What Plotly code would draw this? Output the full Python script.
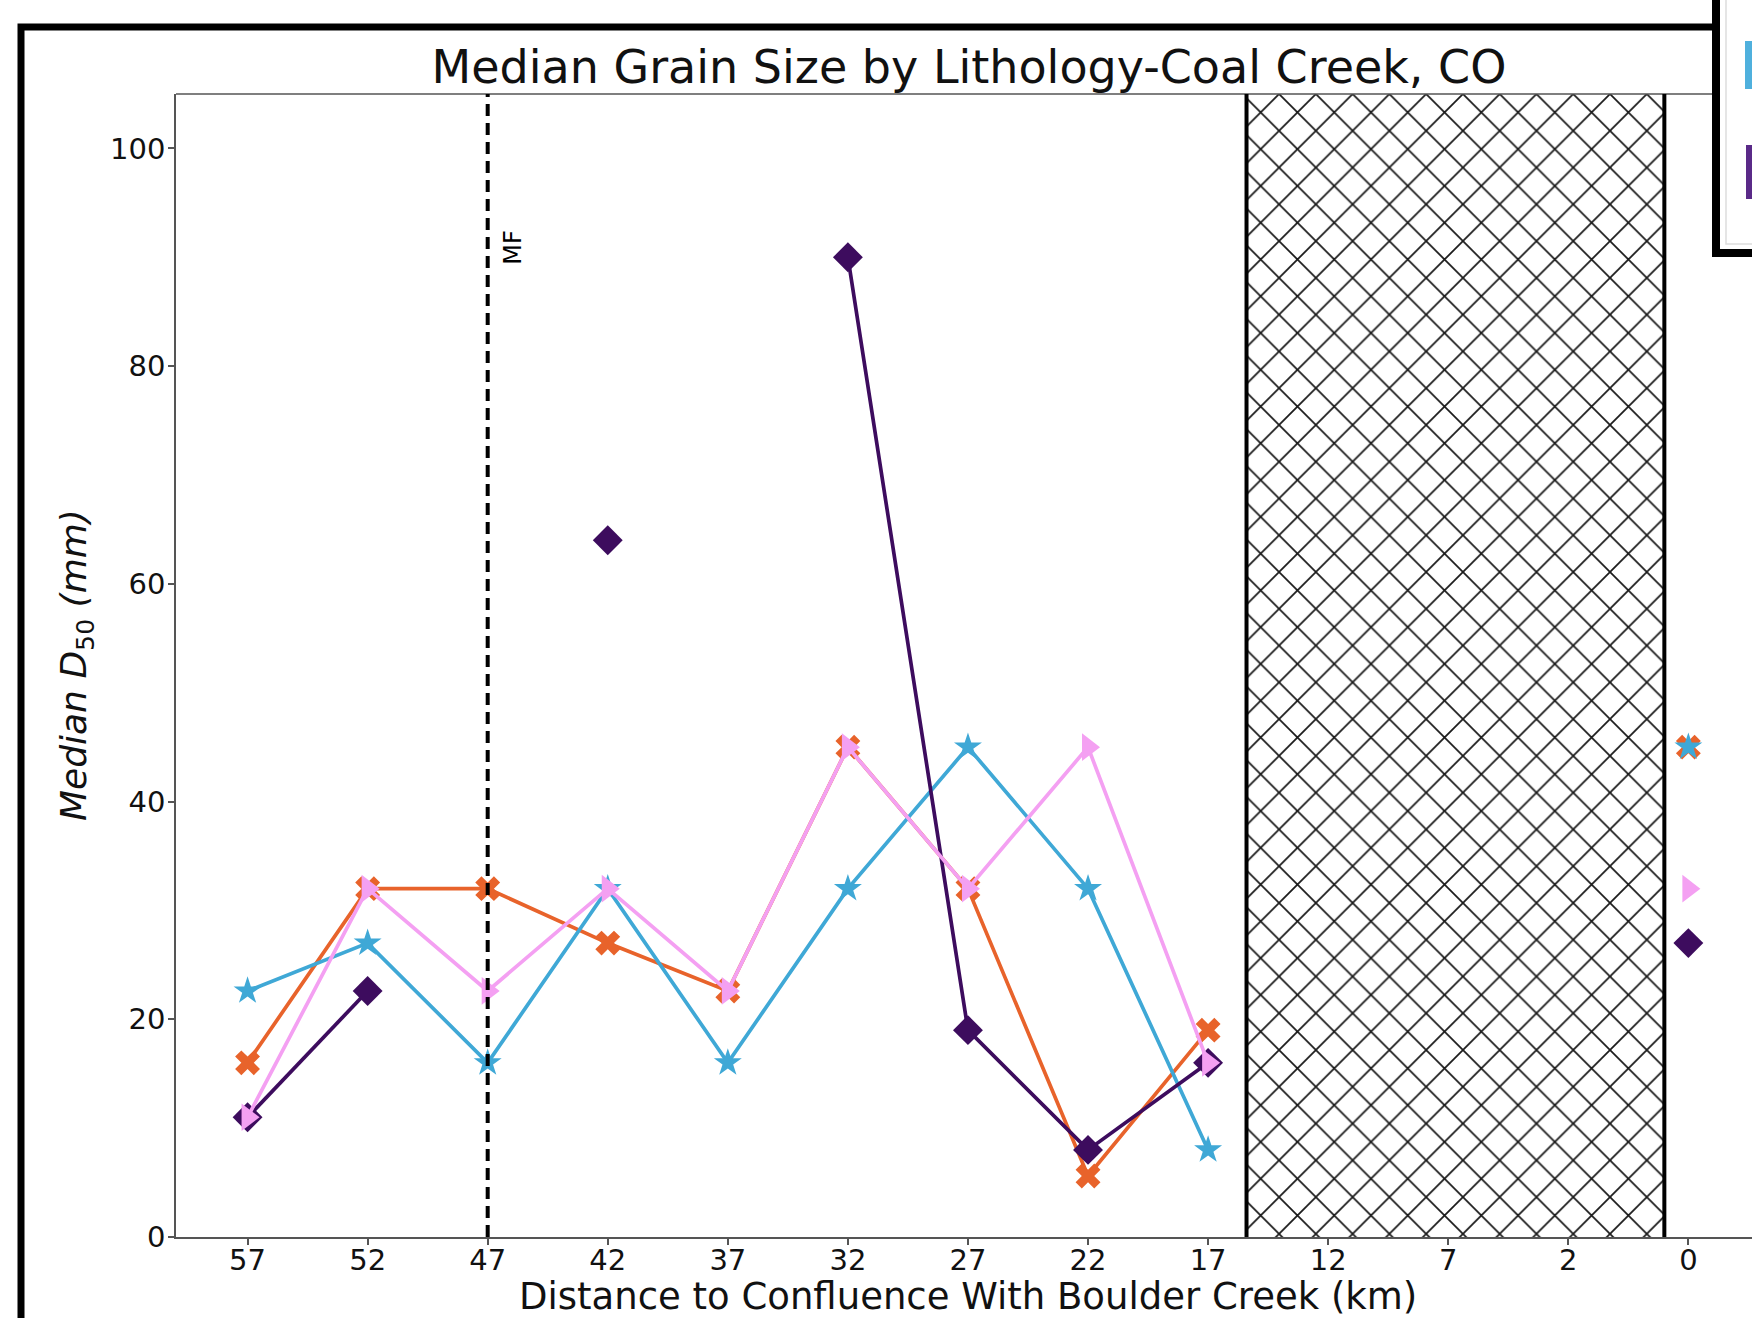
import plotly.graph_objects as go

# ---------------- data ----------------
distance_labels = ["57", "52", "47", "42", "37", "32", "27", "22", "17", "12", "7", "2", "0"]
positions = list(range(len(distance_labels)))

orange_d50 = [16, 32, 32, 27, 22.6, 45, 32, 5.6, 19, None, None, None, 45]
cyan_d50 = [22.6, 27, 16, 32, 16, 32, 45, 32, 8, None, None, None, 45]
purple_d50 = [11, 22.6, None, 64, None, 90, 19, 8, 16, None, None, None, 27]
pink_d50 = [11, 32, 22.6, 32, 22.6, 45, 32, 45, 16, None, None, None, 32]

y_ticks = [0, 20, 40, 60, 80, 100]
mf_position = 2          # index of "47" (MF marker line)
gap_start = 8.32         # hatched (no data) reach, in axis units
gap_end = 11.8

# ---------------- geometry ----------------
W, H = 1752, 1318
ML, MR, MT, MB = 176, 0, 94, 81
PW, PH = W - ML - MR, H - MT - MB
X_RANGE = [-0.596, 12.53]
Y_RANGE = [0, 105]


def px(x):
    """page x pixel -> paper coordinate"""
    return (x - ML) / PW


def py(y):
    """page y pixel -> paper coordinate"""
    return (H - MB - y) / PH


FONT = "DejaVu Sans"

fig = go.Figure()

# hatched region
fig.add_trace(go.Scatter(
    x=[gap_start, gap_end, gap_end, gap_start, gap_start],
    y=[Y_RANGE[0], Y_RANGE[0], Y_RANGE[1], Y_RANGE[1], Y_RANGE[0]],
    mode="lines", fill="toself", line=dict(width=0),
    fillcolor="white",
    fillpattern=dict(shape="x", size=26, solidity=0.13, fgcolor="#1a1a1a",
                     bgcolor="white", fgopacity=1),
    hoverinfo="skip", showlegend=False,
))

series = [
    ("Orange", orange_d50, "#E8632B", "x", 22),
    ("Cyan", cyan_d50, "#3FA8D6", "star", 21),
    ("Purple", purple_d50, "#3D0C5E", "diamond", 23),
    ("Pink", pink_d50, "#F4A0F2", "triangle-right", 24),
]
for name, vals, col, sym, size in series:
    fig.add_trace(go.Scatter(
        x=positions, y=vals, name=name, mode="lines+markers",
        line=dict(color=col, width=3.7),
        marker=dict(symbol=sym, size=size, color=col, line=dict(width=0)),
        connectgaps=False, showlegend=False,
    ))

shapes = []
# top spine (ends at the legend box)
shapes.append(dict(type="line", xref="paper", yref="paper",
                   x0=0, x1=px(1716), y0=1, y1=1,
                   line=dict(color="#555555", width=1.5)))
# MF dashed line
shapes.append(dict(type="line", xref="x", yref="y", x0=mf_position, x1=mf_position,
                   y0=Y_RANGE[0], y1=Y_RANGE[1],
                   line=dict(color="black", width=4, dash="12px,7px")))
# borders of hatched region
for xv in (gap_start, gap_end):
    shapes.append(dict(type="line", xref="x", yref="y", x0=xv, x1=xv,
                       y0=Y_RANGE[0], y1=Y_RANGE[1],
                       line=dict(color="black", width=4)))
# outer frame (screenshot border)
shapes.append(dict(type="path", xref="paper", yref="paper",
                   path=f"M {px(21)},{py(1360)} L {px(21)},{py(27)} L {px(1716)},{py(27)}",
                   line=dict(color="black", width=7)))
# cut-off legend box
shapes.append(dict(type="rect", xref="paper", yref="paper",
                   x0=px(1716), x1=px(1800), y0=py(253), y1=py(-30),
                   fillcolor="white", line=dict(color="black", width=8), layer="above"))
shapes.append(dict(type="rect", xref="paper", yref="paper",
                   x0=px(1726), x1=px(1800), y0=py(244), y1=py(-30),
                   fillcolor="white", line=dict(color="#dddddd", width=1.5), layer="above"))
shapes.append(dict(type="rect", xref="paper", yref="paper",
                   x0=px(1745), x1=px(1790), y0=py(89), y1=py(41),
                   fillcolor="#4FB0DD", line=dict(width=0), layer="above"))
shapes.append(dict(type="rect", xref="paper", yref="paper",
                   x0=px(1746), x1=px(1790), y0=py(199), y1=py(145),
                   fillcolor="#5A2A88", line=dict(width=0), layer="above"))

annotations = [
    dict(text="MF", x=mf_position, y=py(247), xref="x", yref="paper",
         xshift=25, textangle=-90, showarrow=False,
         font=dict(family=FONT, size=24, color="black"),
         xanchor="center", yanchor="middle"),
    dict(text="Distance to Confluence With Boulder Creek (km)",
         x=px(968), y=py(1296), xref="paper", yref="paper", showarrow=False,
         font=dict(family=FONT, size=37, color="#111111"),
         xanchor="center", yanchor="middle"),
    dict(text="<i>Median D</i><sub>50</sub><i> (mm)</i>",
         x=px(76), y=py(665), xref="paper", yref="paper", showarrow=False,
         textangle=-90,
         font=dict(family=FONT, size=36, color="#111111"),
         xanchor="center", yanchor="middle"),
]

fig.update_layout(
    width=W, height=H,
    margin=dict(l=ML, r=MR, t=MT, b=MB, pad=0, autoexpand=False),
    paper_bgcolor="white", plot_bgcolor="white",
    font=dict(family=FONT, color="#111111"),
    title=dict(text="Median Grain Size by Lithology-Coal Creek, CO",
               x=969 / W, y=1 - 67 / H,
               xref="container", yref="container",
               xanchor="center", yanchor="middle",
               font=dict(family=FONT, size=46, color="#111111")),
    xaxis=dict(range=X_RANGE, tickvals=positions, ticktext=distance_labels,
               showgrid=False, zeroline=False, showline=True, mirror=False,
               linecolor="#555555", linewidth=1.5,
               ticks="outside", ticklen=6, tickcolor="#555555", tickwidth=1.5,
               ticklabelstandoff=-10,
               tickfont=dict(family=FONT, size=29, color="#111111")),
    yaxis=dict(range=Y_RANGE, tickvals=y_ticks,
               showgrid=False, zeroline=False, showline=True,
               linecolor="#555555", linewidth=1.5,
               ticks="outside", ticklen=6, tickcolor="#555555", tickwidth=1.5,
               ticklabelstandoff=-3,
               tickfont=dict(family=FONT, size=29, color="#111111")),
    shapes=shapes,
    annotations=annotations,
)

fig.write_html(
    "out.html",
    config={"displayModeBar": False},
    post_script="document.documentElement.style.margin='0';"
                "document.body.style.margin='0';"
                "document.documentElement.style.overflow='hidden';"
                "document.body.style.overflow='hidden';",
)
